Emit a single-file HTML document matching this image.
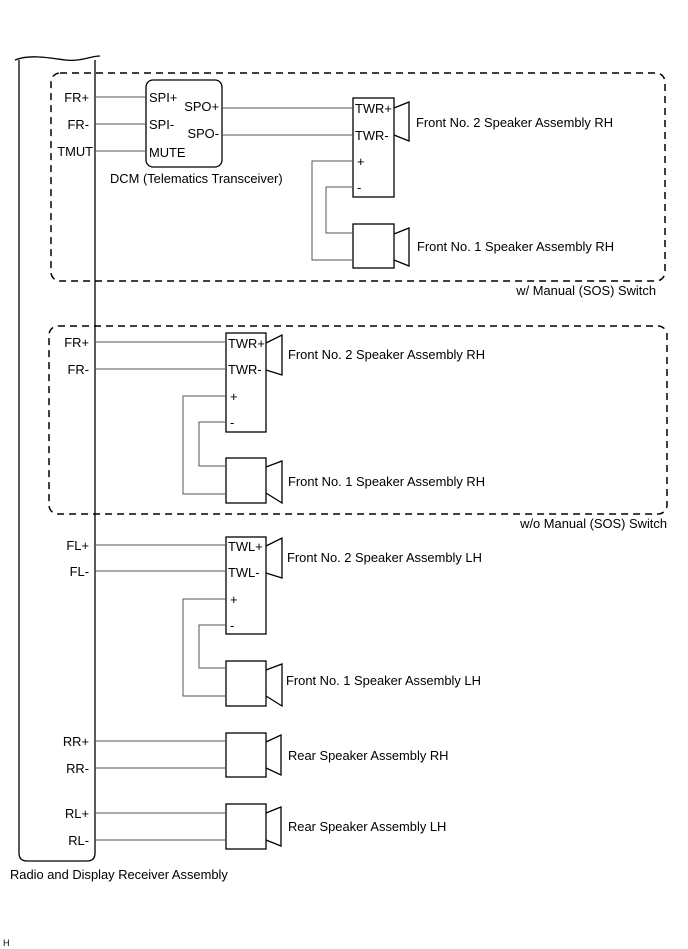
<!DOCTYPE html>
<html><head><meta charset="utf-8"><style>
html,body{margin:0;padding:0;background:#fff}
svg{display:block}
text{font-family:"Liberation Sans",Arial,sans-serif;font-size:12.9px;fill:#000}
</style></head><body>
<svg width="688" height="949" viewBox="0 0 688 949" xmlns="http://www.w3.org/2000/svg">
<g fill="none" stroke="#000" stroke-width="1.3">
<path d="M19,60 L19,853 Q19,861 27,861 L87,861 Q95,861 95,853 L95,60"/>
<path d="M15,60 C30,54 50,58 65,60 C80,62 90,56 100,56"/>
<rect x="51" y="73" width="614" height="208" rx="9" stroke-dasharray="7,5" stroke-width="1.5"/>
<rect x="49" y="326" width="618" height="188" rx="9" stroke-dasharray="7,5" stroke-width="1.5"/>
<rect x="146" y="80" width="76" height="87" rx="7"/>
<rect x="353" y="98" width="41" height="99"/>
<path d="M394,108 L409,102 L409,141 L394,135"/>
<rect x="353" y="224" width="41" height="44"/>
<path d="M394,234 L409,228 L409,266 L394,260"/>
<rect x="226" y="333" width="40" height="99"/>
<path d="M266,343 L282,335 L282,375 L266,370"/>
<rect x="226" y="458" width="40" height="45"/>
<path d="M266,467 L282,461 L282,503 L266,493"/>
<rect x="226" y="537" width="40" height="97"/>
<path d="M266,546 L282,538 L282,578 L266,573"/>
<rect x="226" y="661" width="40" height="45"/>
<path d="M266,670 L282,664 L282,706 L266,696"/>
<rect x="226" y="733" width="40" height="44"/>
<path d="M266,742 L281,735 L281,775 L266,768"/>
<rect x="226" y="804" width="40" height="45"/>
<path d="M266,813 L281,807 L281,846 L266,840"/>
</g>
<g fill="none" stroke="#555" stroke-width="1">
<path d="M95,97H146M95,124H146M95,151H146"/>
<path d="M222,108H353M222,135H353"/>
<path d="M353,161H312V260H353M353,187H326V233H353"/>
<path d="M95,342H226M95,369H226"/>
<path d="M226,396H183V494H226M226,422H199V466H226"/>
<path d="M95,545H226M95,571H226"/>
<path d="M226,599H183V696H226M226,625H199V668H226"/>
<path d="M95,741H226M95,768H226M95,813H226M95,840H226"/>
</g>
<g text-anchor="end">
<text x="89" y="102">FR+</text><text x="89" y="129">FR-</text><text x="93" y="156">TMUT</text>
<text x="89" y="347">FR+</text><text x="89" y="374">FR-</text>
<text x="89" y="550">FL+</text><text x="89" y="576">FL-</text>
<text x="89" y="746">RR+</text><text x="89" y="773">RR-</text>
<text x="89" y="818">RL+</text><text x="89" y="845">RL-</text>
<text x="219" y="111">SPO+</text><text x="219" y="138">SPO-</text>
<text x="656" y="295">w/ Manual (SOS) Switch</text>
<text x="667" y="528">w/o Manual (SOS) Switch</text>
</g>
<text x="149" y="102">SPI+</text><text x="149" y="129">SPI-</text><text x="149" y="157">MUTE</text>
<text x="110" y="183">DCM (Telematics Transceiver)</text>
<text x="355" y="113">TWR+</text><text x="355" y="140">TWR-</text><text x="357" y="166">+</text><text x="357" y="192">-</text>
<text x="416" y="127">Front No. 2 Speaker Assembly RH</text>
<text x="417" y="251">Front No. 1 Speaker Assembly RH</text>
<text x="228" y="348">TWR+</text><text x="228" y="374">TWR-</text><text x="230" y="401">+</text><text x="230" y="427">-</text>
<text x="288" y="359">Front No. 2 Speaker Assembly RH</text>
<text x="288" y="486">Front No. 1 Speaker Assembly RH</text>
<text x="228" y="551">TWL+</text><text x="228" y="577">TWL-</text><text x="230" y="604">+</text><text x="230" y="630">-</text>
<text x="287" y="562">Front No. 2 Speaker Assembly LH</text>
<text x="286" y="685">Front No. 1 Speaker Assembly LH</text>
<text x="288" y="760">Rear Speaker Assembly RH</text>
<text x="288" y="831">Rear Speaker Assembly LH</text>
<text x="10" y="879">Radio and Display Receiver Assembly</text>
<text x="3" y="946" style="font-size:9px">H</text>
</svg>
</body></html>
